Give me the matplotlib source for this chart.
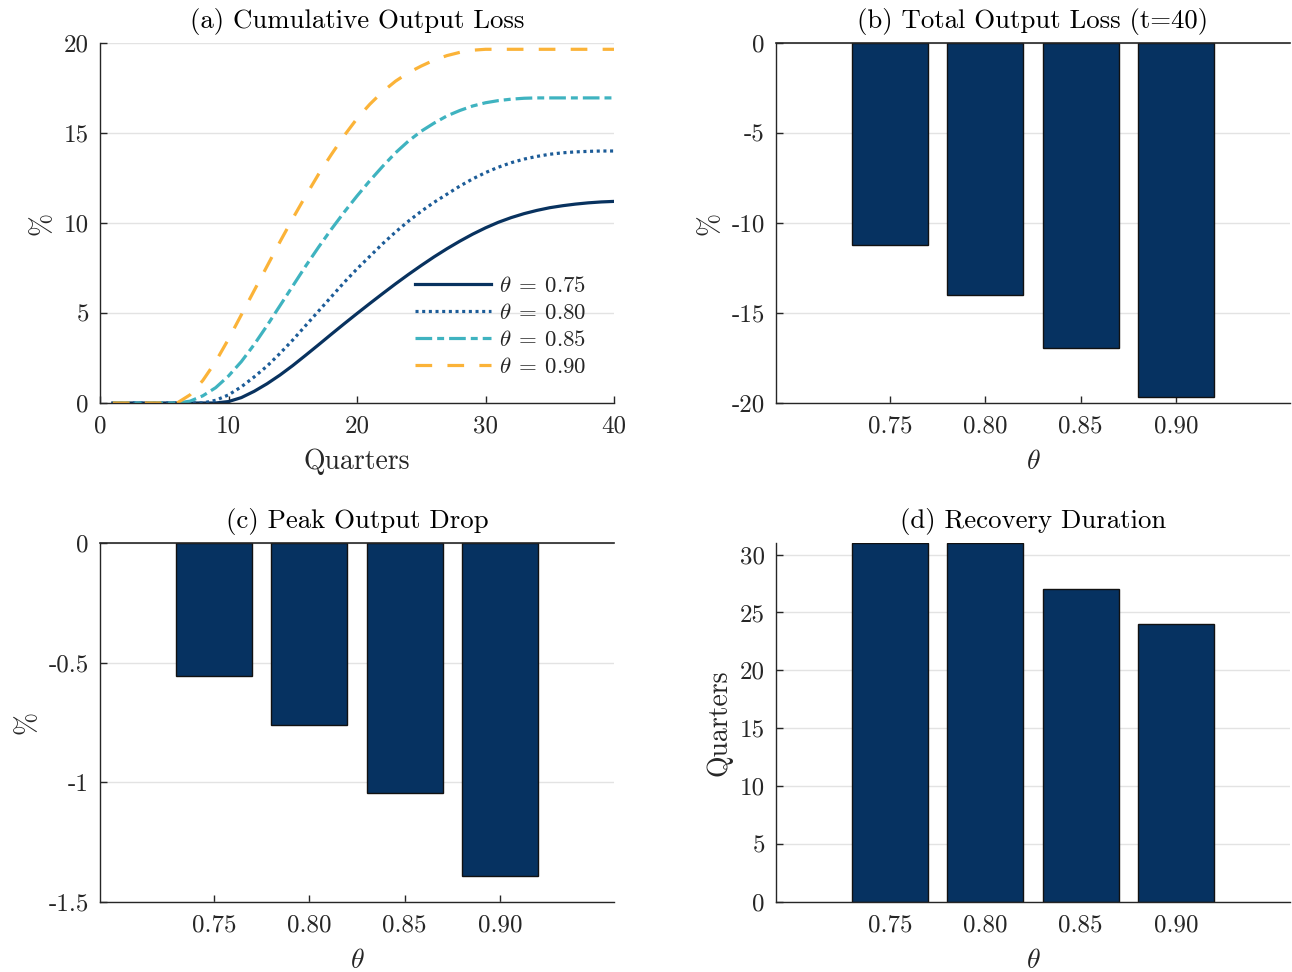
import matplotlib
matplotlib.use("Agg")
import matplotlib.pyplot as plt
import numpy as np

plt.rcParams['font.family'] = 'serif'
plt.rcParams['font.serif'] = ['cmr10']
plt.rcParams['mathtext.fontset'] = 'cm'
plt.rcParams['axes.unicode_minus'] = False
plt.rcParams['lines.scale_dashes'] = False

# ---------------- data ----------------
quarters = list(range(1, 41))
theta_labels = ['0.75', '0.80', '0.85', '0.90']
theta_vals = [0.75, 0.80, 0.85, 0.90]

cum_075 = [0, 0, 0, 0, 0, 0, 0, 0, 0, 0.08, 0.3, 0.65, 1.07, 1.55, 2.08, 2.65, 3.23, 3.82, 4.4, 4.97,
           5.53, 6.08, 6.62, 7.14, 7.64, 8.12, 8.57, 8.99, 9.38, 9.73, 10.04, 10.3, 10.52, 10.7,
           10.85, 10.96, 11.05, 11.12, 11.17, 11.2]
cum_080 = [0, 0, 0, 0, 0, 0, 0, 0, 0.15, 0.45, 0.9, 1.45, 2.05, 2.75, 3.5, 4.3, 5.1, 5.9, 6.7, 7.45,
           8.15, 8.85, 9.5, 10.1, 10.65, 11.15, 11.6, 12.05, 12.45, 12.8, 13.1, 13.35, 13.55, 13.7,
           13.82, 13.9, 13.95, 13.98, 14.0, 14.0]
cum_085 = [0, 0, 0, 0, 0, 0, 0.1, 0.4, 0.85, 1.5, 2.3, 3.25, 4.3, 5.4, 6.5, 7.6, 8.65, 9.65, 10.6,
           11.5, 12.35, 13.15, 13.9, 14.55, 15.1, 15.55, 15.95, 16.25, 16.5, 16.68, 16.8, 16.88,
           16.93, 16.95, 16.95, 16.95, 16.95, 16.95, 16.95, 16.95]
cum_090 = [0, 0, 0, 0, 0, 0, 0.45, 1.25, 2.3, 3.55, 4.9, 6.25, 7.6, 8.95, 10.25, 11.5, 12.7, 13.8,
           14.85, 15.8, 16.6, 17.3, 17.88, 18.35, 18.72, 19.05, 19.3, 19.48, 19.6, 19.65, 19.65,
           19.65, 19.65, 19.65, 19.65, 19.65, 19.65, 19.65, 19.65, 19.65]

total_loss = [-11.2, -14.0, -16.95, -19.65]
peak_drop = [-0.556, -0.762, -1.043, -1.393]
recovery = [31, 31, 27, 24]

# ---------------- styles ----------------
W, H = 1292, 972
fig = plt.figure(figsize=(W / 100, H / 100), dpi=100)

def ax_at(l, t, r, b):
    return fig.add_axes([l / W, 1 - b / H, (r - l) / W, (b - t) / H])

axc = '#262626'
grid_c = '#e3e3e3'
bar_c = '#063261'
tick_fs = 18
lab_fs = 20
title_fs = 19.3

def style(ax):
    for s in ['top', 'right']:
        ax.spines[s].set_visible(False)
    for s in ['left', 'bottom']:
        ax.spines[s].set_color(axc)
        ax.spines[s].set_linewidth(1.0)
    ax.tick_params(direction='in', length=5, width=1.0, colors=axc, labelsize=tick_fs, pad=8)
    ax.tick_params(axis='x', pad=9)
    ax.yaxis.grid(True, color=grid_c, lw=1.0)
    ax.set_axisbelow(True)

# (a)
ax = ax_at(100, 43, 614, 403)
style(ax)
series = [cum_075, cum_080, cum_085, cum_090]
colors = ['#08325f', '#1c5c98', '#3fb3c0', '#fbb338']
styles = ['-', (0, (2.2, 2.6)), (0, (12, 3.6, 5, 3.6)), (0, (12, 11))]
for vals, c, ls, lab in zip(series, colors, styles, theta_labels):
    ax.plot(quarters, vals, color=c, lw=2.3, linestyle=ls, label=r'$\theta\:=\:%s$' % lab)
ax.set_xlim(0, 40)
ax.set_ylim(0, 20)
ax.set_xticks([0, 10, 20, 30, 40])
ax.set_yticks([0, 5, 10, 15, 20])
ax.set_xlabel('Quarters', fontsize=lab_fs, color=axc, labelpad=8)
ax.set_ylabel('%', fontsize=lab_fs, color=axc, labelpad=6)
ax.set_title('(a) Cumulative Output Loss', fontsize=title_fs, color='k', pad=11)
leg = ax.legend(loc='lower right', bbox_to_anchor=(0.968, 0.04), frameon=False, fontsize=16.5,
                handlelength=3.3, handletextpad=0.35, labelspacing=0.3, borderpad=0)
for t in leg.get_texts():
    t.set_color(axc)

def bar_panel(l, t, r, b, vals, ylim, yticks, yticklabels, ylabel, title, zero_line, ylabelpad):
    ax = ax_at(l, t, r, b)
    style(ax)
    ax.bar(theta_vals, vals, width=0.04, color=bar_c, edgecolor='#111111', linewidth=1.0, zorder=2)
    ax.set_xlim(0.69, 0.96)
    ax.set_ylim(*ylim)
    ax.set_xticks(theta_vals)
    ax.set_xticklabels(theta_labels)
    ax.set_yticks(yticks)
    ax.set_yticklabels(yticklabels)
    if zero_line:
        ax.axhline(0, color=axc, lw=1.2, zorder=3, clip_on=False)
    ax.set_xlabel(r'$\theta$', fontsize=lab_fs, color=axc, labelpad=8)
    ax.set_ylabel(ylabel, fontsize=lab_fs, color=axc, labelpad=ylabelpad)
    ax.set_title(title, fontsize=title_fs, color='k', pad=11)
    return ax

bar_panel(776, 43, 1290, 403, total_loss, (-20, 0), [-20, -15, -10, -5, 0],
          ['-20', '-15', '-10', '-5', '0'], '%', '(b) Total Output Loss (t=40)', True, 6)
bar_panel(100, 543, 614, 902, peak_drop, (-1.5, 0), [-1.5, -1, -0.5, 0],
          ['-1.5', '-1', '-0.5', '0'], '%', '(c) Peak Output Drop', True, 6)
bar_panel(776, 543, 1290, 902, recovery, (0, 31), [0, 5, 10, 15, 20, 25, 30],
          ['0', '5', '10', '15', '20', '25', '30'], 'Quarters', '(d) Recovery Duration', False, 5)

fig.savefig('out.png', dpi=100)
